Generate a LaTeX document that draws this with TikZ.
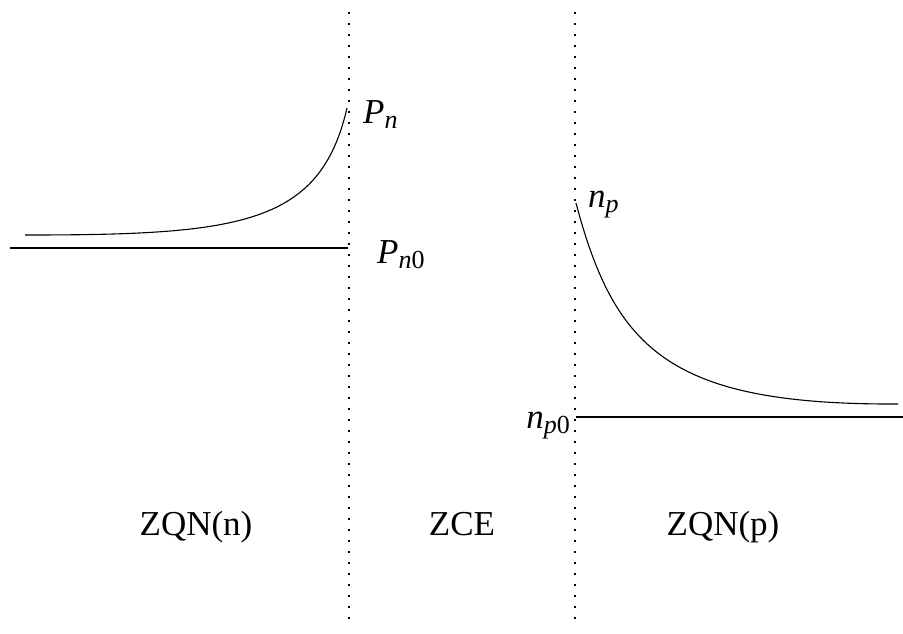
\documentclass[tikz,border=0pt]{standalone}
\usepackage{fontspec}
\setmainfont{Liberation Serif}
\usepackage{tikz}
\usetikzlibrary{positioning, calc}
\newcommand{\lowsub}[1]{\raisebox{-0.16em}{\fontsize{26}{26}\selectfont #1}}

\begin{document}
\begin{tikzpicture}[x=1pt, y=-1pt,
    zone/.style={font=\fontsize{35}{40}\selectfont, anchor=base},
    conc/.style={font=\fontsize{35}{40}\selectfont, anchor=base west, inner sep=0pt},
    border/.style={line width=1.1pt, dash pattern=on 2pt off 9pt},
    level/.style={line width=1.1pt},
    profile/.style={line width=1.1pt},
]
    \useasboundingbox (0,0) rectangle (903,633);
    % zone limits
    \coordinate (leftTop) at (349,12);
    \coordinate (leftBot) at (349,626);
    \coordinate (rightTop) at (575,12);
    \coordinate (rightBot) at (575,626);
    \draw[border] (leftTop) -- (leftBot);
    \draw[border] (rightTop) -- (rightBot);

    % n side: holes
    \coordinate (pnStart) at (10,248);
    \coordinate (pnEnd) at (348,248);
    \coordinate (pStart) at (25,235);
    \coordinate (pEnd) at (347,108);
    \draw[level] (pnStart) -- (pnEnd);
    \draw[profile] (pStart) .. controls (240,235) and (320,225) .. (pEnd);
    \node[conc] (Pn) at (363,123) {\textit{P}\lowsub{\textit{n}}};
    \node[conc] (Pn0) at (377,263) {\textit{P}\lowsub{\textit{n}0}};

    % p side: electrons
    \coordinate (npStart) at (576,417);
    \coordinate (npEnd) at (903,417);
    \coordinate (nStart) at (576,203);
    \coordinate (nEnd) at (898,404);
    \draw[level] (npStart) -- (npEnd);
    \draw[profile] (nStart) .. controls (615,350) and (670,405) .. (nEnd);
    \node[conc] (np) at (588,207) {\textit{n}\lowsub{\textit{p}}};
    \node[conc, anchor=base east] (np0) at (570,428) {\textit{n}\lowsub{\textit{p}0}};

    % zones
    \node[zone] (zqnN) at (196,535) {ZQN(n)};
    \node[zone] (zce) at (462,535) {ZCE};
    \node[zone] (zqnP) at (723,535) {ZQN(p)};
\end{tikzpicture}
\end{document}
